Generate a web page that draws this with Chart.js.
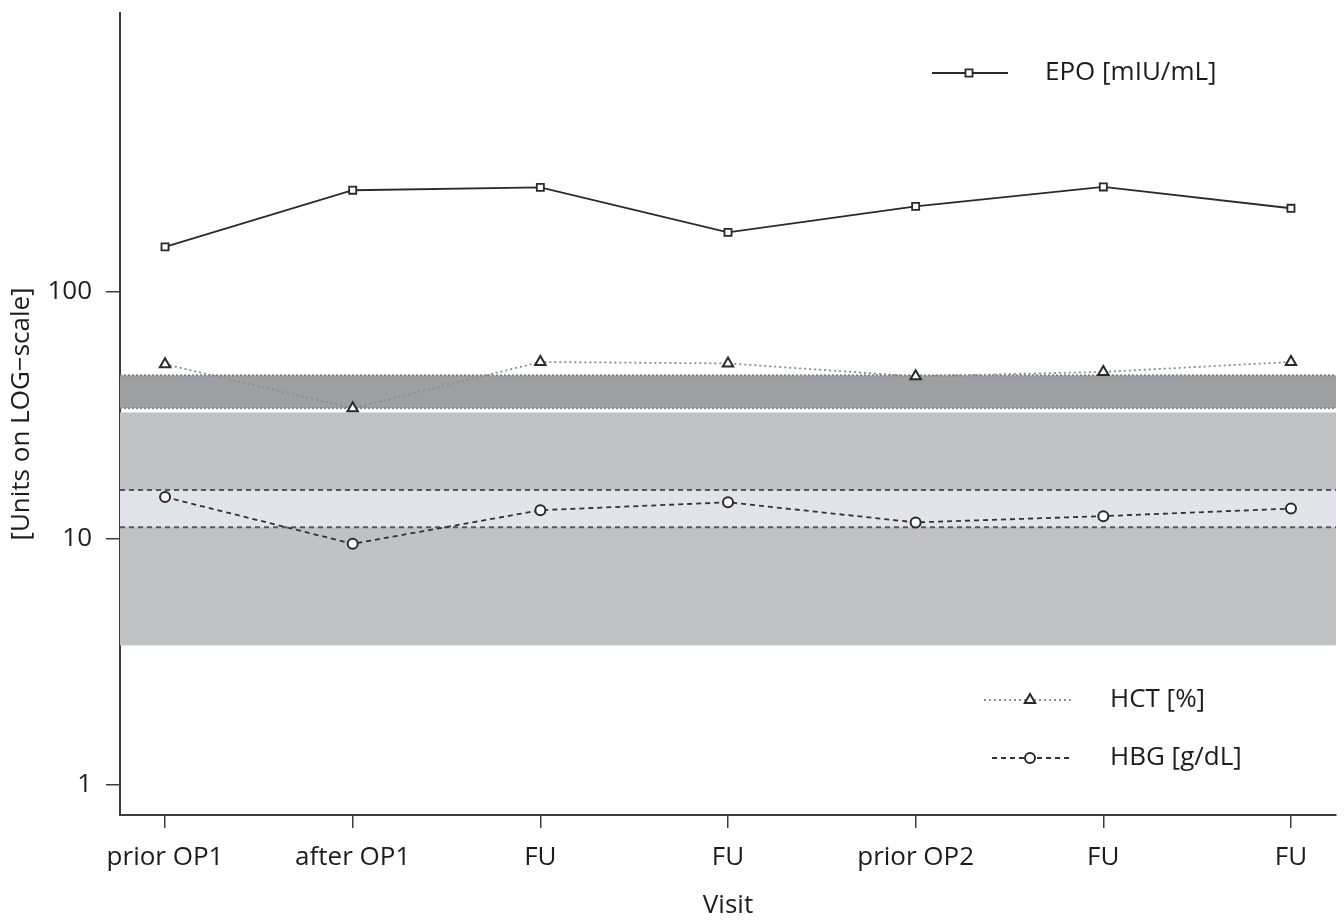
<!DOCTYPE html>
<html><head><meta charset="utf-8">
<script src="https://cdn.jsdelivr.net/npm/chart.js@4.4.1/dist/chart.umd.min.js"></script>
<style>html,body{margin:0;padding:0;background:#fff;overflow:hidden;} #wrap{position:relative;width:1344px;height:922px;}</style>
</head><body><div id="wrap"><canvas id="c" width="1344" height="922"></canvas></div>
<script>
const visits = ['prior OP1', 'after OP1', 'FU', 'FU', 'prior OP2', 'FU', 'FU'];
const epo = [152, 258, 265, 174, 222, 266, 218];
const hct = [50.8, 33.7, 51.9, 51.2, 45.4, 47.3, 51.9];
const hbg = [14.7, 9.5, 13.0, 14.0, 11.6, 12.3, 13.2];
const yTicks = [1, 10, 100];
const grayRange = [3.68, 32.4];
const hctRange = [33.7, 45.8];
const hbgRange = [11.1, 15.7];
const seriesNames = ['EPO [mIU/mL]', 'HCT [%]', 'HBG [g/dL]'];

const FONT = '"Open Sans", "DejaVu Sans", sans-serif';
const FSIZE = 26;
const INK = '#1c1c1c';
const AXIS = '#3c3c3c';

const toPts = arr => arr.map((v, i) => ({x: i, y: v}));

const bandsPlugin = {
  id: 'bands',
  beforeDatasetsDraw(chart) {
    const {ctx, chartArea: a, scales: {y}} = chart;
    ctx.save();
    ctx.beginPath(); ctx.rect(a.left, a.top, a.right - a.left, a.bottom - a.top); ctx.clip();
    const band = (r, col) => {
      const y1 = y.getPixelForValue(r[1]), y0 = y.getPixelForValue(r[0]);
      ctx.fillStyle = col; ctx.fillRect(a.left, y1, a.right - a.left, y0 - y1);
    };
    band(grayRange, '#c1c2c5');
    band(hbgRange, '#e1e4e9');
    band(hctRange, '#9d9fa3');
    const hline = (v, col, dash, w) => {
      const py = y.getPixelForValue(v);
      ctx.strokeStyle = col; ctx.lineWidth = w; ctx.setLineDash(dash);
      ctx.beginPath(); ctx.moveTo(a.left, py); ctx.lineTo(a.right, py); ctx.stroke();
    };
    hline(hctRange[0], '#808285', [2, 2], 2);
    hline(hctRange[1], '#808285', [2, 2], 2);
    hline(hbgRange[0], '#55575b', [5, 4], 2);
    hline(hbgRange[1], '#55575b', [5, 4], 2);
    ctx.restore();
  }
};

const legendPlugin = {
  id: 'customLegend',
  afterDraw(chart) {
    const {ctx} = chart;
    ctx.save();
    const items = [
      {ds: 0, x0: 932, x1: 1008, mx: 969, y: 73, tx: 1045},
      {ds: 1, x0: 984, x1: 1072, mx: 1030, y: 700, tx: 1110},
      {ds: 2, x0: 992, x1: 1072, mx: 1030, y: 758, tx: 1110}
    ];
    items.forEach(it => {
      const d = chart.data.datasets[it.ds];
      ctx.strokeStyle = d.borderColor; ctx.lineWidth = d.borderWidth;
      ctx.setLineDash(d.borderDash || []);
      ctx.beginPath(); ctx.moveTo(it.x0, it.y); ctx.lineTo(it.x1, it.y); ctx.stroke();
      ctx.setLineDash([]);
      ctx.fillStyle = d.pointBackgroundColor; ctx.strokeStyle = d.pointBorderColor; ctx.lineWidth = d.pointBorderWidth;
      ctx.beginPath();
      Chart.helpers.drawPoint(ctx, {pointStyle: d.pointStyle, radius: d.pointRadius, borderWidth: d.pointBorderWidth, rotation: 0}, it.mx, it.y);
      ctx.fillStyle = INK;
      ctx.font = FSIZE + 'px ' + FONT;
      ctx.textBaseline = 'middle'; ctx.textAlign = 'left';
      ctx.fillText(d.label, it.tx, it.y);
    });
    ctx.restore();
  }
};

new Chart(document.getElementById('c'), {
  type: 'line',
  data: {
    datasets: [
      {label: seriesNames[0], data: toPts(epo), borderColor: '#2a2a2a', borderWidth: 1.8,
       pointStyle: 'rect', pointRadius: 5, pointBorderWidth: 1.8, pointBackgroundColor: '#fff', pointBorderColor: '#2a2a2a'},
      {label: seriesNames[1], data: toPts(hct), borderColor: '#8a8c90', borderWidth: 1.8, borderDash: [2, 3],
       pointStyle: 'triangle', pointRadius: 6, pointBorderWidth: 2, pointBackgroundColor: '#fff', pointBorderColor: '#2a2a2a'},
      {label: seriesNames[2], data: toPts(hbg), borderColor: '#333', borderWidth: 1.8, borderDash: [5, 4],
       pointStyle: 'circle', pointRadius: 5, pointBorderWidth: 2, pointBackgroundColor: '#fff', pointBorderColor: '#2a2a2a'}
    ]
  },
  options: {
    responsive: false, animation: false, devicePixelRatio: 1,
    layout: {padding: {top: 13, right: 6, left: 0, bottom: 0}},
    plugins: {legend: {display: false}, tooltip: {enabled: false}},
    elements: {line: {tension: 0}},
    scales: {
      x: {
        type: 'linear', min: -0.24, max: 6.24,
        afterBuildTicks: s => { s.ticks = visits.map((_, i) => ({value: i})); },
        afterFit: s => { s.height = 107; s.paddingLeft = 0; s.paddingRight = 0; },
        ticks: {callback: v => visits[v], autoSkip: false, maxRotation: 0, color: INK, font: {family: FONT, size: FSIZE}, padding: 14},
        grid: {drawOnChartArea: false, drawTicks: true, tickLength: 13, color: AXIS, lineWidth: 1.5},
        border: {color: AXIS, width: 2},
        title: {display: true, text: 'Visit', color: INK, font: {family: FONT, size: FSIZE}, padding: {top: 0, bottom: 1}}
      },
      y: {
        type: 'logarithmic', min: 0.755, max: 1350,
        afterBuildTicks: s => { s.ticks = yTicks.map(v => ({value: v})); },
        afterFit: s => { s.width = 120; s.paddingTop = 0; s.paddingBottom = 0; },
        ticks: {callback: v => String(v), color: INK, font: {family: FONT, size: FSIZE}, padding: 14},
        grid: {drawOnChartArea: false, drawTicks: true, tickLength: 14, color: AXIS, lineWidth: 1.5},
        border: {color: AXIS, width: 2},
        title: {display: true, text: '[Units on LOG\u2212scale]', color: INK, font: {family: FONT, size: FSIZE}, padding: {top: 6, bottom: 0}}
      }
    }
  },
  plugins: [bandsPlugin, legendPlugin]
});
</script></body></html>
